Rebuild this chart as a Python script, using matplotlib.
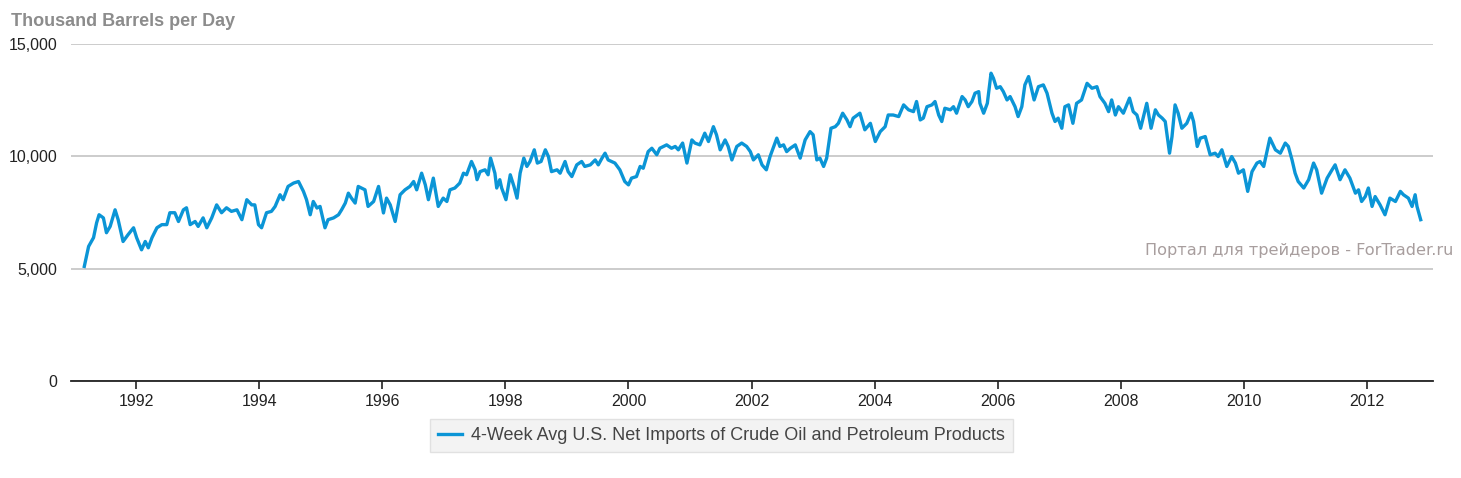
import matplotlib
matplotlib.use('Agg')
import matplotlib.pyplot as plt
import matplotlib.ticker as mticker

# weekly net imports (thousand barrels/day), decimal year
years = [
    1991.16, 1991.23, 1991.31, 1991.36, 1991.40, 1991.47, 1991.52, 1991.58, 1991.66, 1991.71,
    1991.79, 1991.87, 1991.96, 1992.01, 1992.09, 1992.15, 1992.20, 1992.26, 1992.34, 1992.42,
    1992.50, 1992.55, 1992.63, 1992.69, 1992.77, 1992.82, 1992.88, 1992.96, 1993.01, 1993.09,
    1993.15, 1993.23, 1993.31, 1993.39, 1993.47, 1993.55, 1993.64, 1993.72, 1993.80, 1993.88,
    1993.93, 1993.99, 1994.04, 1994.12, 1994.20, 1994.26, 1994.34, 1994.39, 1994.47, 1994.56,
    1994.64, 1994.72, 1994.77, 1994.83, 1994.88, 1994.94, 1994.99, 1995.07, 1995.12, 1995.21,
    1995.29, 1995.34, 1995.40, 1995.45, 1995.50, 1995.56, 1995.61, 1995.72, 1995.77, 1995.86,
    1995.94, 1996.02, 1996.07, 1996.13, 1996.21, 1996.29, 1996.37, 1996.45, 1996.51, 1996.56,
    1996.64, 1996.70, 1996.75, 1996.83, 1996.91, 1996.99, 1997.05, 1997.10, 1997.18, 1997.26,
    1997.32, 1997.37, 1997.45, 1997.51, 1997.54, 1997.59, 1997.67, 1997.72, 1997.76, 1997.83,
    1997.86, 1997.91, 1997.94, 1998.01, 1998.08, 1998.14, 1998.19, 1998.24, 1998.30, 1998.35,
    1998.40, 1998.47, 1998.52, 1998.58, 1998.65, 1998.70, 1998.75, 1998.84, 1998.89, 1998.97,
    1999.02, 1999.08, 1999.16, 1999.24, 1999.29, 1999.38, 1999.46, 1999.51, 1999.57, 1999.62,
    1999.67, 1999.78, 1999.86, 1999.94, 2000.00, 2000.05, 2000.13, 2000.19, 2000.24, 2000.32,
    2000.38, 2000.46, 2000.51, 2000.62, 2000.70, 2000.76, 2000.81, 2000.88, 2000.95, 2001.03,
    2001.08, 2001.16, 2001.24, 2001.30, 2001.38, 2001.43, 2001.49, 2001.57, 2001.62, 2001.68,
    2001.76, 2001.84, 2001.92, 2001.98, 2002.03, 2002.11, 2002.17, 2002.24, 2002.30, 2002.35,
    2002.41, 2002.46, 2002.52, 2002.57, 2002.63, 2002.71, 2002.79, 2002.87, 2002.95, 2003.00,
    2003.06, 2003.11, 2003.17, 2003.22, 2003.29, 2003.36, 2003.41, 2003.48, 2003.55, 2003.60,
    2003.65, 2003.76, 2003.84, 2003.93, 2004.01, 2004.09, 2004.17, 2004.22, 2004.30, 2004.39,
    2004.47, 2004.55, 2004.63, 2004.68, 2004.74, 2004.79, 2004.85, 2004.93, 2004.98, 2005.04,
    2005.09, 2005.14, 2005.23, 2005.28, 2005.33, 2005.42, 2005.47, 2005.52, 2005.58, 2005.63,
    2005.69, 2005.71, 2005.77, 2005.83, 2005.89, 2005.93, 2005.98, 2006.04, 2006.09, 2006.15,
    2006.20, 2006.28, 2006.33, 2006.39, 2006.44, 2006.50, 2006.54, 2006.59, 2006.66, 2006.74,
    2006.80, 2006.88, 2006.93, 2006.98, 2007.04, 2007.09, 2007.15, 2007.22, 2007.28, 2007.36,
    2007.45, 2007.53, 2007.61, 2007.66, 2007.74, 2007.80, 2007.85, 2007.91, 2007.96, 2008.04,
    2008.14, 2008.20, 2008.26, 2008.32, 2008.42, 2008.49, 2008.56, 2008.61, 2008.67, 2008.72,
    2008.79, 2008.83, 2008.88, 2008.93, 2008.99, 2009.07, 2009.14, 2009.18, 2009.24, 2009.29,
    2009.37, 2009.45, 2009.53, 2009.58, 2009.64, 2009.72, 2009.80, 2009.86, 2009.91, 2009.99,
    2010.06, 2010.13, 2010.21, 2010.26, 2010.32, 2010.42, 2010.51, 2010.59, 2010.67, 2010.72,
    2010.78, 2010.83, 2010.88, 2010.97, 2011.05, 2011.13, 2011.18, 2011.26, 2011.35, 2011.43,
    2011.48, 2011.56, 2011.64, 2011.72, 2011.81, 2011.86, 2011.91, 2011.97, 2012.02, 2012.08,
    2012.13, 2012.21, 2012.29, 2012.37, 2012.46, 2012.54, 2012.59, 2012.67, 2012.73, 2012.78,
    2012.81, 2012.87,
]
imports = [
    5100, 5990, 6380, 7040, 7400, 7260, 6600, 6880, 7620, 7180,
    6210, 6510, 6820, 6380, 5840, 6210, 5930, 6380, 6820, 6960,
    6960, 7490, 7490, 7100, 7620, 7710, 6960, 7100, 6880, 7260,
    6820, 7260, 7840, 7490, 7710, 7550, 7620, 7180, 8070, 7840,
    7840, 6960, 6820, 7490, 7550, 7770, 8290, 8070, 8660, 8810,
    8880, 8440, 8070, 7400, 7990, 7700, 7770, 6820, 7180, 7260,
    7400, 7620, 7920, 8360, 8140, 7920, 8660, 8510, 7770, 7990,
    8660, 7480, 8140, 7840, 7100, 8290, 8510, 8660, 8880, 8510,
    9250, 8730, 8070, 9030, 7770, 8140, 7990, 8510, 8590, 8810,
    9250, 9180, 9770, 9400, 8960, 9320, 9400, 9180, 9920, 9250,
    8590, 8960, 8590, 8070, 9180, 8660, 8140, 9250, 9920, 9550,
    9770, 10290, 9700, 9770, 10290, 9990, 9320, 9400, 9250, 9770,
    9320, 9100, 9620, 9770, 9550, 9620, 9840, 9620, 9920, 10140,
    9840, 9700, 9400, 8880, 8730, 9030, 9100, 9550, 9470, 10210,
    10360, 10070, 10360, 10510, 10360, 10440, 10290, 10590, 9700, 10730,
    10590, 10510, 11030, 10660, 11320, 10960, 10290, 10730, 10440, 9840,
    10440, 10590, 10440, 10210, 9840, 10070, 9620, 9400, 9990, 10360,
    10810, 10440, 10510, 10210, 10360, 10510, 9920, 10730, 11100, 10960,
    9840, 9920, 9550, 9920, 11250, 11320, 11470, 11920, 11620, 11320,
    11700, 11920, 11180, 11470, 10660, 11100, 11320, 11840, 11840, 11770,
    12290, 12070, 11990, 12440, 11620, 11700, 12210, 12290, 12440, 11840,
    11550, 12140, 12070, 12210, 11920, 12660, 12510, 12210, 12440, 12810,
    12880, 12360, 11920, 12360, 13700, 13470, 13030, 13100, 12880, 12510,
    12660, 12210, 11770, 12210, 13180, 13550, 13100, 12510, 13100, 13180,
    12810, 11920, 11550, 11700, 11250, 12210, 12290, 11470, 12360, 12510,
    13250, 13030, 13100, 12660, 12360, 11990, 12510, 11840, 12210, 11920,
    12590, 11990, 11840, 11250, 12360, 11250, 12070, 11840, 11700, 11550,
    10140, 10880, 12290, 11920, 11250, 11470, 11920, 11550, 10440, 10810,
    10880, 10070, 10140, 9990, 10290, 9550, 9990, 9700, 9250, 9400,
    8440, 9320, 9700, 9770, 9550, 10810, 10290, 10140, 10590, 10440,
    9840, 9250, 8880, 8590, 8960, 9700, 9400, 8360, 9030, 9400,
    9620, 8960, 9400, 9030, 8360, 8510, 7990, 8210, 8590, 7770,
    8210, 7840, 7400, 8140, 7990, 8440, 8290, 8140, 7770, 8290,
    7770, 7180,
]
series_label = '4-Week Avg U.S. Net Imports of Crude Oil and Petroleum Products'
x_ticks = list(range(1992, 2013, 2))
y_ticks = [0, 5000, 10000, 15000]

plt.rcParams['font.family'] = ['Liberation Sans', 'DejaVu Sans']

fig = plt.figure(figsize=(14.61, 4.78), dpi=100)
ax = fig.add_axes([71 / 1461, 1 - 381 / 478, (1433 - 71) / 1461, (381 - 44) / 478])

ax.plot(years, imports, color='#0b95d6', lw=2.4, label=series_label, solid_joinstyle='round')

ax.set_xlim(1990.944, 2013.07)
ax.set_ylim(0, 15000)
ax.set_xticks(x_ticks)
ax.set_yticks(y_ticks)
ax.yaxis.set_major_formatter(mticker.FuncFormatter(lambda v, p: f'{int(v):,}'))

ax.grid(axis='y', color='#c4c4c4', lw=1.2)
ax.set_axisbelow(True)
for s in ['top', 'right', 'left']:
    ax.spines[s].set_visible(False)
ax.spines['bottom'].set_color('#222222')
ax.spines['bottom'].set_linewidth(1.3)
ax.spines['bottom'].set_zorder(5)

ax.tick_params(axis='x', length=6, width=1.2, color='#222222', pad=3, labelsize=11.5, labelcolor='#222222')
ax.tick_params(axis='y', length=0, pad=10, labelsize=11.5, labelcolor='#222222')

fig.text(11 / 1461, 1 - 22 / 478, 'Thousand Barrels per Day', fontsize=13, fontweight='bold',
         color='#8c8c8c', ha='left', va='center')

ax.text(1453 / 1461, 1 - 250 / 478, 'Портал для трейдеров - ForTrader.ru', transform=fig.transFigure,
        family='DejaVu Sans', fontsize=11.6, color='#a89e9e', ha='right', va='center')

leg = fig.legend(loc='center', bbox_to_anchor=(721.5 / 1461, 1 - 435.5 / 478), fontsize=13,
                 frameon=True, fancybox=False, handlelength=1.3, handletextpad=0.5,
                 borderpad=0.45, borderaxespad=0)
leg.get_frame().set_facecolor('#f0f0f0')
leg.get_frame().set_edgecolor('#dcdcdc')
leg.get_frame().set_linewidth(1)
for t in leg.get_texts():
    t.set_color('#444444')

fig.savefig('out.png', dpi=100)
